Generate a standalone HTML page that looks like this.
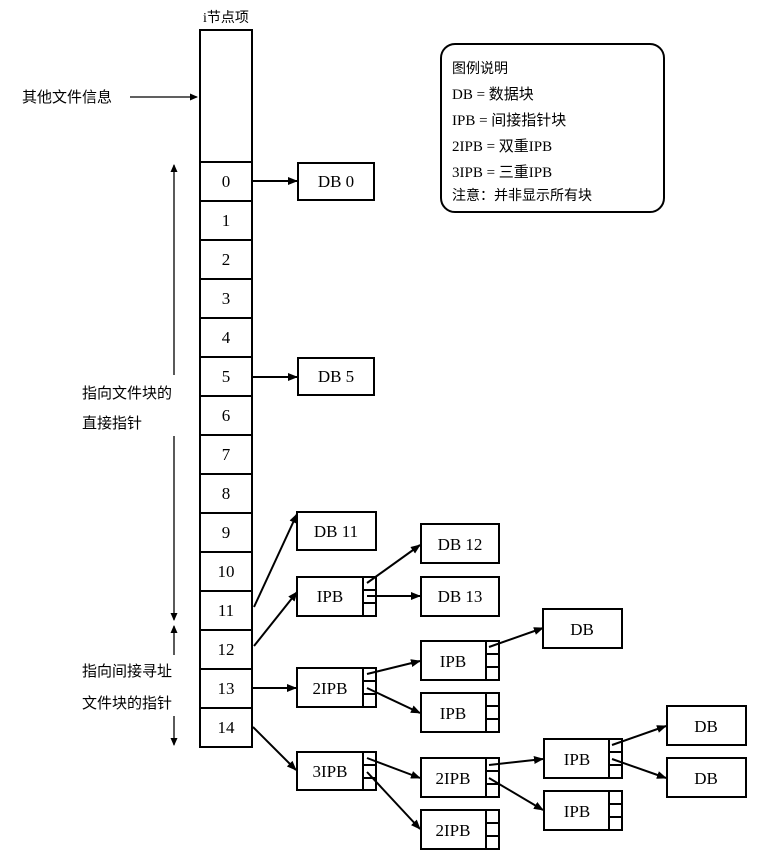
<!DOCTYPE html>
<html><head><meta charset="utf-8"><style>
html,body{margin:0;padding:0;background:#fff}
svg text{font-family:"Liberation Serif","Noto Serif CJK SC",serif;fill:#000}
.cj{font-family:"Liberation Serif","Noto Sans CJK SC",sans-serif}
</style></head><body>
<svg width="784" height="859" viewBox="0 0 784 859" xmlns="http://www.w3.org/2000/svg">
<defs><marker id="a" markerWidth="10" markerHeight="8" refX="9" refY="4" orient="auto" markerUnits="userSpaceOnUse"><path d="M0,0 L10,4 L0,8 z" fill="#000"/></marker>
<marker id="s" markerWidth="8" markerHeight="7" refX="7" refY="3.5" orient="auto" markerUnits="userSpaceOnUse"><path d="M0,0 L8,3.5 L0,7 z" fill="#000"/></marker></defs>
<g stroke="#000" stroke-width="2" fill="none">
<rect x="200" y="30" width="52" height="717"/>
<line x1="200" y1="162" x2="252" y2="162"/><line x1="200" y1="201" x2="252" y2="201"/><line x1="200" y1="240" x2="252" y2="240"/><line x1="200" y1="279" x2="252" y2="279"/><line x1="200" y1="318" x2="252" y2="318"/><line x1="200" y1="357" x2="252" y2="357"/><line x1="200" y1="396" x2="252" y2="396"/><line x1="200" y1="435" x2="252" y2="435"/><line x1="200" y1="474" x2="252" y2="474"/><line x1="200" y1="513" x2="252" y2="513"/><line x1="200" y1="552" x2="252" y2="552"/><line x1="200" y1="591" x2="252" y2="591"/><line x1="200" y1="630" x2="252" y2="630"/><line x1="200" y1="669" x2="252" y2="669"/><line x1="200" y1="708" x2="252" y2="708"/>
<rect x="441" y="44" width="223" height="168" rx="14"/>
<rect x="298" y="163" width="76" height="37"/>
<rect x="298" y="358" width="76" height="37"/>
<rect x="297" y="512" width="79" height="38"/>
<rect x="421" y="524" width="78" height="39"/>
<rect x="421" y="577" width="78" height="39"/>
<rect x="543" y="609" width="79" height="39"/>
<rect x="667" y="706" width="79" height="39"/>
<rect x="667" y="758" width="79" height="39"/>
</g>
<g stroke="#000" stroke-width="2" fill="none">
<!-- IPB-style boxes with slot column -->
<g id="ipb1"><rect x="297" y="577" width="79" height="39"/><line x1="363" y1="577" x2="363" y2="616"/><line x1="363" y1="590" x2="376" y2="590"/><line x1="363" y1="603" x2="376" y2="603"/></g>
<rect x="297" y="668" width="79" height="39"/><line x1="363" y1="668" x2="363" y2="707"/><line x1="363" y1="681" x2="376" y2="681"/><line x1="363" y1="694" x2="376" y2="694"/>
<rect x="421" y="641" width="78" height="39"/><line x1="486" y1="641" x2="486" y2="680"/><line x1="486" y1="654" x2="499" y2="654"/><line x1="486" y1="667" x2="499" y2="667"/>
<rect x="421" y="693" width="78" height="39"/><line x1="486" y1="693" x2="486" y2="732"/><line x1="486" y1="706" x2="499" y2="706"/><line x1="486" y1="719" x2="499" y2="719"/>
<rect x="297" y="752" width="79" height="38"/><line x1="363" y1="752" x2="363" y2="790"/><line x1="363" y1="765" x2="376" y2="765"/><line x1="363" y1="778" x2="376" y2="778"/>
<rect x="421" y="758" width="78" height="39"/><line x1="486" y1="758" x2="486" y2="797"/><line x1="486" y1="771" x2="499" y2="771"/><line x1="486" y1="784" x2="499" y2="784"/>
<rect x="421" y="810" width="78" height="39"/><line x1="486" y1="810" x2="486" y2="849"/><line x1="486" y1="823" x2="499" y2="823"/><line x1="486" y1="836" x2="499" y2="836"/>
<rect x="544" y="739" width="78" height="39"/><line x1="609" y1="739" x2="609" y2="778"/><line x1="609" y1="752" x2="622" y2="752"/><line x1="609" y1="765" x2="622" y2="765"/>
<rect x="544" y="791" width="78" height="39"/><line x1="609" y1="791" x2="609" y2="830"/><line x1="609" y1="804" x2="622" y2="804"/><line x1="609" y1="817" x2="622" y2="817"/>
</g>
<g stroke="#000" stroke-width="2" fill="none" marker-end="url(#a)">
<line x1="253" y1="181" x2="297" y2="181"/>
<line x1="253" y1="377" x2="297" y2="377"/>
<line x1="254" y1="607" x2="297" y2="514"/>
<line x1="254" y1="646" x2="297" y2="592"/>
<line x1="253" y1="688" x2="296" y2="688"/>
<line x1="253" y1="727" x2="296" y2="770"/>
<line x1="367" y1="583" x2="420" y2="545"/>
<line x1="367" y1="596" x2="420" y2="596"/>
<line x1="367" y1="674" x2="420" y2="661"/>
<line x1="367" y1="688" x2="420" y2="713"/>
<line x1="489" y1="647" x2="543" y2="628"/>
<line x1="367" y1="758" x2="420" y2="778"/>
<line x1="367" y1="772" x2="420" y2="829"/>
<line x1="489" y1="765" x2="543" y2="759"/>
<line x1="489" y1="778" x2="543" y2="810"/>
<line x1="612" y1="745" x2="666" y2="726"/>
<line x1="612" y1="759" x2="666" y2="778"/>
</g>
<g stroke="#000" stroke-width="1.3" fill="none">
<line x1="130" y1="97" x2="197" y2="97" marker-end="url(#s)"/>
<line x1="174" y1="375" x2="174" y2="165" marker-end="url(#s)"/>
<line x1="174" y1="436" x2="174" y2="620" marker-end="url(#s)"/>
<line x1="174" y1="655" x2="174" y2="626" marker-end="url(#s)"/>
<line x1="174" y1="716" x2="174" y2="745" marker-end="url(#s)"/>
</g>
<g font-size="17" text-anchor="middle">
<text x="226" y="187">0</text><text x="226" y="226">1</text><text x="226" y="265">2</text><text x="226" y="304">3</text><text x="226" y="343">4</text><text x="226" y="382">5</text><text x="226" y="421">6</text><text x="226" y="460">7</text><text x="226" y="499">8</text><text x="226" y="538">9</text><text x="226" y="577">10</text><text x="226" y="616">11</text><text x="226" y="655">12</text><text x="226" y="694">13</text><text x="226" y="733">14</text>
<text x="336" y="187">DB 0</text><text x="336" y="382">DB 5</text><text x="336" y="537">DB 11</text>
<text x="460" y="550">DB 12</text><text x="460" y="602">DB 13</text>
<text x="330" y="602">IPB</text><text x="330" y="694">2IPB</text><text x="330" y="777">3IPB</text>
<text x="453" y="667">IPB</text><text x="453" y="719">IPB</text>
<text x="453" y="784">2IPB</text><text x="453" y="836">2IPB</text>
<text x="577" y="765">IPB</text><text x="577" y="817">IPB</text>
<text x="582" y="635">DB</text><text x="706" y="732">DB</text><text x="706" y="784">DB</text>
</g>
<g font-size="14" class="cj">
<text x="203" y="22" class="cj">i节点项</text>
<text x="22" y="102" font-size="15" class="cj">其他文件信息</text>
<text x="82" y="398" font-size="15" class="cj">指向文件块的</text>
<text x="82" y="428" font-size="15" class="cj">直接指针</text>
<text x="82" y="676" font-size="15" class="cj">指向间接寻址</text>
<text x="82" y="708" font-size="15" class="cj">文件块的指针</text>
<text x="452" y="73" class="cj">图例说明</text>
<text x="452" y="99" class="cj" font-size="15">DB = 数据块</text>
<text x="452" y="125" class="cj" font-size="15">IPB = 间接指针块</text>
<text x="452" y="151" class="cj" font-size="15">2IPB = 双重IPB</text>
<text x="452" y="168" class="cj" font-size="15" dy="9">3IPB = 三重IPB</text>
<text x="452" y="200" class="cj">注意：并非显示所有块</text>
</g>
</svg>
</body></html>
